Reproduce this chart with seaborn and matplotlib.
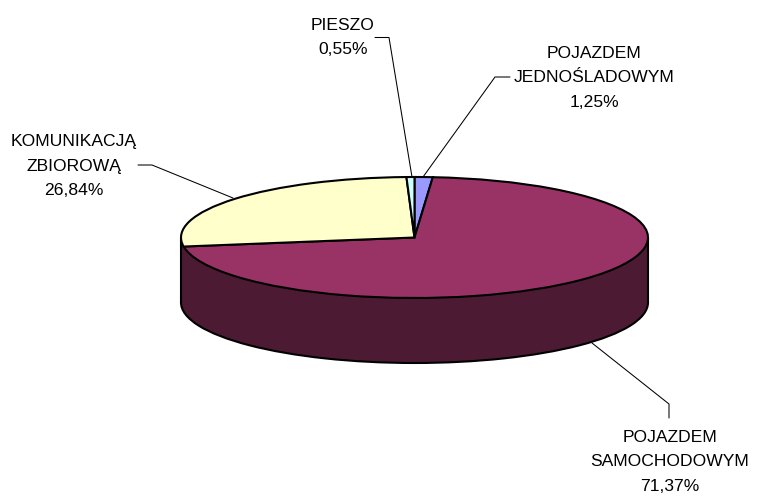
import matplotlib
matplotlib.use("Agg")
import matplotlib.pyplot as plt
import seaborn as sns

categories = ["POJAZDEM\nJEDNOŚLADOWYM", "POJAZDEM\nSAMOCHODOWYM", "KOMUNIKACJĄ\nZBIOROWĄ", "PIESZO"]
shares = [1.25, 71.37, 26.84, 0.55]
share_labels = ["1,25%", "71,37%", "26,84%", "0,55%"]
colors = ["#9999FF", "#993366", "#FFFFCC", "#CCFFFF"]
side_color = "#4D1A33"

W, H = 757, 496
label_pos = [(594, 78), (670, 462), (74, 166), (343, 37.5)]
leaders = [
    [(510, 77), (495, 77), (423, 177)],
    [(669, 418), (669, 404), (592, 343)],
    [(138, 165), (152, 165), (233, 198)],
    [(375, 37.5), (389, 37.5), (412, 177)],
]

sns.set_theme(style="white")
plt.rcParams["font.family"] = ["Liberation Sans", "DejaVu Sans"]

fig = plt.figure(figsize=(W / 100, H / 100), dpi=100, facecolor="white")

# Pie axes: the unit circle is stretched into the ellipse of the tilted disc
left, right, top, bottom = 181, 648, 177, 298
ax = fig.add_axes([left / W, 1 - bottom / H, (right - left) / W, (bottom - top) / H])
depth = 2 * 65 / (bottom - top)

edge = dict(edgecolor="black", linewidth=1.5, clip_on=False)

# Extruded side
ax.pie([1], colors=[side_color], center=(0, -depth), radius=1,
       wedgeprops=dict(zorder=1, **edge))
ax.fill_between([-1, 1], [-depth, -depth], [0, 0], color=side_color, lw=0, zorder=2, clip_on=False)
ax.vlines([-1, 1], -depth, 0, color="black", lw=1.5, zorder=3, clip_on=False)

# Top face
ax.pie(shares, colors=colors, startangle=90, counterclock=False, radius=1,
       wedgeprops=dict(zorder=4, **edge))
ax.set_aspect("auto")
ax.set_xlim(-1, 1)
ax.set_ylim(-1, 1)
ax.axis("off")

# Overlay in pixel coordinates for the labels and leader lines
ov = fig.add_axes([0, 0, 1, 1], facecolor="none")
ov.set_xlim(0, W)
ov.set_ylim(H, 0)
ov.axis("off")

for cat, lab, (x, y), path in zip(categories, share_labels, label_pos, leaders):
    text = f"{cat}\n{lab}"
    ov.text(x, y, text, ha="center", va="center", ma="center",
            fontsize=12.6, color="black", linespacing=1.82)
    ov.plot([p[0] for p in path], [p[1] for p in path], color="black", lw=0.75)

fig.savefig("out.png", dpi=100)
